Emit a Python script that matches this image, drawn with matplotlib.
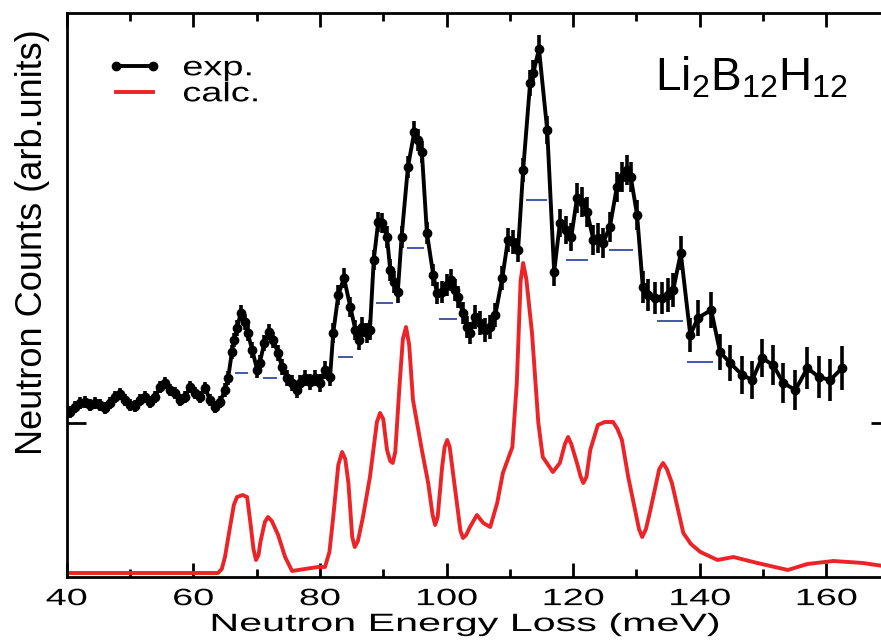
import matplotlib
matplotlib.use("Agg")
import matplotlib.pyplot as plt
import matplotlib.patheffects as pe
from matplotlib.lines import Line2D
from matplotlib.ticker import MultipleLocator
from matplotlib.transforms import Affine2D

plt.rcParams['font.family'] = ['Liberation Sans', 'DejaVu Sans']
plt.rcParams['mathtext.fontset'] = 'custom'
plt.rcParams['mathtext.rm'] = 'Liberation Sans'

# experimental spectrum (meV, arb. units) with error bars
exp_energy = [40.0, 40.5, 41.3, 42.1, 42.9, 43.7, 44.5, 45.3, 46.1, 46.8,
              47.6, 48.4, 49.2, 50.0, 50.8, 51.6, 52.4, 53.2, 54.0, 54.7,
              55.5, 56.3, 57.1, 57.9, 58.7, 59.5, 60.3, 61.1, 61.9, 62.6,
              63.4, 64.2, 65.0, 65.5, 66.1, 66.4, 66.9, 67.5, 68.1, 68.6,
              69.3, 70.1, 70.5, 71.2, 72.0, 72.6, 73.4, 74.0, 74.8, 75.6,
              76.4, 76.9, 77.6, 78.4, 79.2, 80.0, 80.8, 81.6, 82.1, 82.9,
              83.8, 84.8, 85.6, 86.1, 86.7, 87.4, 87.9, 88.5, 89.2, 89.8,
              90.6, 91.1, 91.7, 92.3, 92.9, 93.9, 94.9, 95.5, 96.1, 96.9,
              97.9, 98.5, 99.3, 100.1, 100.7, 101.3, 101.8, 102.6, 103.2, 103.7,
              104.5, 105.3, 106.1, 106.9, 107.7, 108.8, 109.7, 110.5, 111.3, 112.1,
              113.2, 113.7, 114.6, 115.9, 117.0, 117.9, 118.9, 119.7, 120.6, 121.4,
              122.2, 123.2, 123.9, 124.7, 125.8, 126.9, 127.7, 128.5, 129.1, 130.1,
              131.0, 131.8, 132.9, 134.0, 135.0, 135.8, 137.0, 138.5, 139.7, 141.8,
              143.2, 144.8, 146.7, 148.3, 149.8, 151.6, 153.2, 155.1, 157.0, 158.8,
              160.6, 162.5]
exp_counts = [167, 165, 170, 174, 175, 172, 174, 172, 169, 174,
              180, 183, 177, 172, 171, 177, 180, 175, 180, 190,
              194, 187, 184, 177, 180, 190, 184, 180, 189, 177,
              170, 175, 187, 199, 225, 237, 249, 264, 255, 244,
              227, 207, 214, 234, 245, 237, 224, 210, 199, 194,
              187, 194, 199, 195, 199, 194, 207, 200, 244, 282,
              299, 270, 247, 237, 250, 244, 247, 317, 355, 354,
              340, 307, 295, 285, 340, 410, 445, 437, 425, 344,
              302, 284, 285, 292, 297, 287, 280, 264, 250, 244,
              260, 254, 247, 250, 262, 299, 337, 335, 327, 407,
              494, 504, 528, 447, 305, 354, 347, 340, 379, 375,
              365, 337, 339, 334, 350, 390, 400, 407, 400, 362,
              290, 282, 279, 279, 282, 287, 324, 242, 259, 267,
              225, 214, 202, 197, 219, 212, 194, 187, 209, 200,
              197, 209]
exp_err = [6, 6, 6, 6, 6, 6, 6, 6, 6, 6,
           6, 6, 6, 6, 6, 6, 6, 6, 6, 6,
           6, 6, 6, 6, 6, 6, 6, 6, 6, 6,
           6, 6, 7, 7, 7, 7, 8, 8, 8, 8,
           8, 8, 8, 8, 8, 8, 8, 8, 8, 8,
           8, 8, 8, 8, 8, 9, 9, 9, 10, 10,
           10, 10, 10, 10, 10, 10, 10, 10, 10, 10,
           11, 11, 11, 11, 11, 11, 11, 11, 11, 11,
           11, 11, 11, 11, 11, 11, 11, 11, 11, 11,
           12, 12, 12, 12, 12, 12, 12, 12, 12, 12,
           13, 13, 14, 14, 14, 14, 14, 14, 15, 15,
           15, 15, 15, 15, 15, 15, 15, 15, 15, 15,
           16, 16, 16, 16, 17, 17, 17, 17, 18, 18,
           18, 18, 19, 19, 19, 20, 20, 20, 21, 21,
           21, 22]

# calculated spectrum
calc_energy = [40.0, 63.9, 64.5, 65.0, 65.8, 66.4, 66.9, 67.8, 68.5, 69.1,
               69.5, 69.9, 70.3, 70.6, 71.3, 71.8, 72.4, 73.4, 74.5, 75.6,
               77.6, 79.7, 80.8, 81.5, 82.1, 82.9, 83.5, 84.0, 84.5, 85.1,
               85.5, 86.0, 86.8, 87.9, 89.0, 89.5, 90.0, 90.6, 91.1, 91.5,
               91.9, 92.6, 93.1, 93.6, 94.1, 94.7, 96.1, 97.1, 97.8, 98.2,
               98.6, 99.3, 99.7, 100.1, 100.5, 100.9, 102.2, 102.6, 103.1, 103.7,
               104.8, 105.8, 106.9, 108.0, 108.9, 110.4, 111.1, 111.7, 112.1, 112.6,
               113.5, 114.5, 115.2, 116.8, 117.9, 118.7, 119.2, 119.7, 120.6, 121.2,
               121.6, 122.1, 122.7, 123.9, 125.0, 126.3, 127.0, 127.7, 128.7, 130.4,
               130.9, 131.5, 132.2, 133.6, 134.2, 134.8, 135.6, 137.4, 138.6, 140.1,
               142.8, 145.3, 149.1, 153.9, 157.0, 161.1, 165.8, 170.0]
calc_counts = [4, 4, 8, 20, 50, 72, 80, 82, 80, 50,
               28, 17, 22, 35, 55, 60, 56, 42, 20, 6,
               8, 10, 10, 25, 60, 112, 125, 118, 94, 40,
               30, 36, 60, 100, 155, 164, 158, 127, 116, 114,
               125, 194, 238, 250, 232, 177, 127, 94, 62, 52,
               60, 110, 130, 137, 130, 110, 46, 39, 42, 50,
               62, 54, 50, 74, 104, 130, 194, 296, 314, 298,
               244, 154, 120, 105, 114, 133, 140, 133, 114, 100,
               94, 100, 127, 152, 155, 155, 148, 137, 100, 48,
               40, 48, 67, 108, 114, 108, 94, 44, 33, 25,
               17, 20, 14, 7, 13, 16, 14, 10]

# blue horizontal markers: centre, width, height
bar_center = [67.6, 72.1, 84.0, 90.2, 95.1, 100.2, 114.2, 120.6, 127.6, 135.3, 140.0]
bar_width = [2.1, 2.2, 2.4, 2.7, 2.7, 2.8, 3.3, 3.5, 3.8, 4.1, 4.1]
bar_level = [204, 199, 220, 274, 329, 258, 377, 317, 327, 256, 215]


class Widen(pe.AbstractPathEffect):
    # stretch text horizontally around a fixed screen x position
    def __init__(self, sx, cx):
        super().__init__()
        self.sx = sx
        self.cx = cx

    def draw_path(self, renderer, gc, tpath, affine, rgbFace=None):
        stretch = Affine2D().translate(-self.cx, 0).scale(self.sx, 1).translate(self.cx, 0)
        renderer.draw_path(gc, tpath, affine + stretch, rgbFace)


fig = plt.figure(figsize=(8.81, 6.44), dpi=100)
ax = fig.add_axes([66.7 / 881, 67 / 644, 823 / 881, 564 / 644])

ax.plot(calc_energy, calc_counts, color='#ec2327', lw=2.8, label='calc.', zorder=2,
        solid_joinstyle='round')
ax.errorbar(exp_energy, exp_counts, yerr=exp_err, fmt='none', ecolor='k',
            elinewidth=2.6, capsize=0, zorder=3)
ax.plot(exp_energy, exp_counts, '-o', color='k', lw=2.8, ms=6, label='exp.', zorder=4,
        solid_joinstyle='round')
ax.hlines(bar_level, [c - w / 2 for c, w in zip(bar_center, bar_width)],
          [c + w / 2 for c, w in zip(bar_center, bar_width)],
          color='#4356a8', lw=1.4, zorder=5)

ax.set_xlim(40, 170)
ax.set_ylim(0, 564)
ax.xaxis.set_major_locator(MultipleLocator(20))
ax.xaxis.set_minor_locator(MultipleLocator(10))
ax.set_yticks([154])
ax.tick_params(axis='x', which='major', direction='in', top=True, length=10, width=2,
               labelsize=17, pad=8)
ax.tick_params(axis='x', which='minor', direction='in', top=True, length=5.5, width=2)
ax.tick_params(axis='y', direction='in', left=True, right=True, length=14, width=2,
               labelleft=False)
for sp in ax.spines.values():
    sp.set_linewidth(2)

ax.set_xlabel('Neutron Energy Loss (meV)', fontsize=18)
ax.xaxis.set_label_coords(0.484, -0.062)
ax.set_ylabel('Neutron Counts (arb.units)', fontsize=26, ha='center', va='center')
ax.yaxis.set_label_coords(-0.041, 0.594)

ax.text(0.715, 0.862, r'$\mathrm{Li_2B_{12}H_{12}}$', transform=ax.transAxes,
        fontsize=33, ha='left', va='baseline')

handles = [Line2D([], [], color='k', lw=2.8, marker='o', ms=6),
           Line2D([], [], color='#ec2327', lw=2.8)]
leg = ax.legend(handles, ['exp.', 'calc.'], loc='upper left', bbox_to_anchor=(0.050, 0.925),
                frameon=False, fontsize=19.5, handlelength=1.95, handletextpad=0.8,
                labelspacing=0.0, borderpad=0, borderaxespad=0, numpoints=2)

# widen the text the way the original figure is stretched
fig.canvas.draw()
for lab in ax.get_xticklabels():
    bb = lab.get_window_extent()
    lab.set_path_effects([Widen(1.6, (bb.x0 + bb.x1) / 2)])
bb = ax.xaxis.label.get_window_extent()
ax.xaxis.label.set_path_effects([Widen(1.65, (bb.x0 + bb.x1) / 2)])
for t in leg.get_texts():
    bb = t.get_window_extent()
    t.set_path_effects([Widen(1.4, bb.x0)])

fig.savefig('out.png', dpi=100)
